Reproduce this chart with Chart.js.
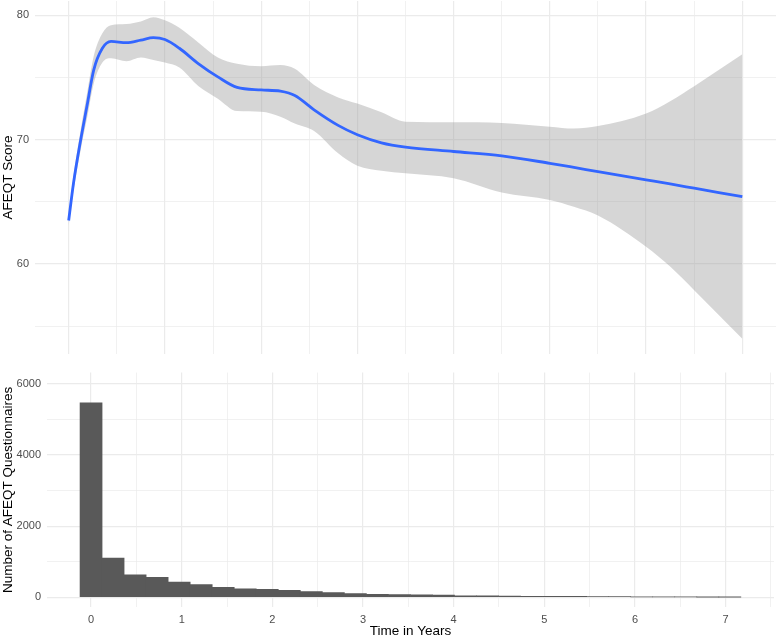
<!DOCTYPE html>
<html>
<head>
<meta charset="utf-8">
<script src="https://cdn.jsdelivr.net/npm/chart.js@4.4.1/dist/chart.umd.min.js"></script>
<style>
  html, body { margin: 0; padding: 0; background: #ffffff; }
  #wrap { position: relative; width: 778px; height: 638px; overflow: hidden; }
  #top { position: absolute; left: 0; top: -15px; }
  #bottom { position: absolute; left: 0; top: 360px; }
</style>
</head>
<body>
<div id="wrap">
  <canvas id="top" width="778" height="386"></canvas>
  <canvas id="bottom" width="778" height="278"></canvas>
</div>
<script>
// ---------- data ----------
// Upper panel: smoothed AFEQT score with confidence band
const topTime  = [0, 0.05, 0.125, 0.19, 0.26, 0.35, 0.44, 0.6, 0.75, 0.88, 1.0, 1.15, 1.35, 1.55, 1.75, 2.0, 2.2, 2.35, 2.55, 2.8, 3.0, 3.25, 3.5, 4.0, 4.5, 5.0, 5.25, 5.5, 6.0, 6.25, 6.5, 7.0];
const fitScore = [63.5, 66.5, 70.0, 72.7, 75.6, 77.35, 77.9, 77.8, 78.0, 78.2, 78.05, 77.35, 76.1, 75.05, 74.2, 74.0, 73.9, 73.55, 72.4, 71.15, 70.4, 69.75, 69.4, 69.05, 68.7, 68.1, 67.77, 67.43, 66.77, 66.44, 66.1, 65.42];
const ciUpper  = [63.9, 67.1, 70.8, 73.7, 76.7, 78.55, 79.2, 79.3, 79.5, 79.84, 79.6, 79.0, 77.8, 76.6, 76.1, 75.9, 76.0, 75.7, 74.4, 73.4, 72.9, 72.2, 71.45, 71.4, 71.35, 71.05, 70.9, 71.1, 72.1, 73.1, 74.3, 76.86];
const ciLower  = [63.1, 65.9, 69.2, 71.7, 74.5, 76.2, 76.55, 76.3, 76.6, 76.4, 76.2, 75.8, 74.3, 73.3, 72.3, 72.25, 71.85, 71.3, 70.7, 68.9, 67.9, 67.5, 67.3, 66.9, 65.75, 65.15, 64.6, 63.9, 61.4, 59.8, 57.9, 54.0];
const topXTicks = [0, 0.5, 1, 1.5, 2, 2.5, 3, 3.5, 4, 4.5, 5, 5.5, 6, 6.5, 7];
const topXMajor = [0, 1, 2, 3, 4, 5, 6, 7];
const topYTicks = [55, 60, 65, 70, 75, 80];
const topYLabels = [60, 70, 80];

// Lower panel: histogram of questionnaires over time
const binCenters = [0, 0.243, 0.486, 0.729, 0.972, 1.215, 1.458, 1.701, 1.944, 2.187, 2.43, 2.673, 2.916, 3.159, 3.402, 3.645, 3.888, 4.131, 4.374, 4.617, 4.86, 5.103, 5.346, 5.589, 5.832, 6.075, 6.318, 6.561, 6.804, 7.047];
const binCounts  = [5470, 1100, 635, 560, 425, 355, 280, 240, 225, 195, 160, 130, 105, 85, 80, 70, 60, 45, 45, 38, 30, 25, 30, 20, 22, 10, 8, 8, 4, 2];
const yearTicks  = [0, 0.5, 1, 1.5, 2, 2.5, 3, 3.5, 4, 4.5, 5, 5.5, 6, 6.5, 7, 7.5];
const yearLabels = [0, 1, 2, 3, 4, 5, 6, 7];
const countTicks = [0, 1000, 2000, 3000, 4000, 5000, 6000];
const countLabels = [0, 2000, 4000, 6000];

// ---------- styles ----------
const FONT = "'Liberation Sans', Arial, Helvetica, sans-serif";
const GRID = '#ebebeb';
const TICKCOL = '#4d4d4d';
Chart.defaults.font.family = FONT;
Chart.defaults.animation = false;

function gridWidth(labels) {
  return ctx => (ctx.tick && labels.includes(ctx.tick.value)) ? 1.2 : 0.7;
}
function setTicks(values) {
  return scale => { scale.ticks = values.map(v => ({ value: v })); };
}

// ---------- upper panel ----------
const pts = ys => topTime.map((t, i) => ({ x: t, y: ys[i] }));
new Chart(document.getElementById('top'), {
  type: 'line',
  data: {
    datasets: [
      { data: pts(ciLower), order: 2, borderWidth: 0, pointRadius: 0, fill: false, cubicInterpolationMode: 'monotone', borderColor: 'rgba(0,0,0,0)' },
      { data: pts(ciUpper), order: 1, borderWidth: 0, pointRadius: 0, fill: '-1', backgroundColor: 'rgba(153,153,153,0.4)', cubicInterpolationMode: 'monotone', borderColor: 'rgba(0,0,0,0)' },
      { data: pts(fitScore), order: 0, borderWidth: 2.8, pointRadius: 0, fill: false, borderColor: '#3366FF', cubicInterpolationMode: 'monotone' }
    ]
  },
  options: {
    responsive: false,
    devicePixelRatio: 1,
    layout: { padding: { top: 16, left: 0, right: 2, bottom: 0 } },
    plugins: { legend: { display: false }, tooltip: { enabled: false } },
    scales: {
      x: {
        type: 'linear', min: -0.35, max: 7.35,
        afterBuildTicks: setTicks(topXTicks),
        afterFit: s => { s.height = 17; },
        ticks: { display: false },
        grid: { color: GRID, lineWidth: gridWidth(topXMajor), drawTicks: false },
        border: { display: false }
      },
      y: {
        min: 52.77, max: 81.15,
        afterBuildTicks: setTicks(topYTicks),
        afterFit: s => { s.width = 35; },
        ticks: {
          color: TICKCOL, font: { size: 11 }, padding: 6,
          callback: v => topYLabels.includes(v) ? String(v) : ''
        },
        grid: { color: GRID, lineWidth: gridWidth(topYLabels), drawTicks: false },
        border: { display: false },
        title: { display: true, text: 'AFEQT Score', color: '#000000', font: { size: 13.5, lineHeight: 1.2 }, padding: 0 }
      }
    }
  }
});

// ---------- lower panel ----------
new Chart(document.getElementById('bottom'), {
  type: 'bar',
  data: {
    datasets: [{
      data: binCenters.map((c, i) => ({ x: c, y: binCounts[i] })),
      backgroundColor: '#595959',
      borderWidth: 0,
      barPercentage: 1,
      categoryPercentage: 1
    }]
  },
  options: {
    responsive: false,
    devicePixelRatio: 1,
    layout: { padding: { top: 12, left: 0, right: 4, bottom: 0 } },
    plugins: { legend: { display: false }, tooltip: { enabled: false } },
    scales: {
      x: {
        type: 'linear', min: -0.486, max: 7.534, offset: false,
        afterBuildTicks: setTicks(yearTicks),
        afterFit: s => { s.height = 31; },
        ticks: {
          color: TICKCOL, font: { size: 11 }, padding: 6, autoSkip: false, maxRotation: 0,
          callback: v => yearLabels.includes(v) ? String(v) : ''
        },
        grid: { color: GRID, lineWidth: gridWidth(yearLabels), drawTicks: false, offset: false },
        border: { display: false },
        title: { display: true, text: 'Time in Years', color: '#000000', font: { size: 13.5, lineHeight: 1 }, padding: 0 }
      },
      y: {
        min: -272, max: 6317,
        afterBuildTicks: setTicks(countTicks),
        afterFit: s => { s.width = 47; },
        ticks: {
          color: TICKCOL, font: { size: 11 }, padding: 6,
          callback: v => countLabels.includes(v) ? String(v) : ''
        },
        grid: { color: GRID, lineWidth: gridWidth(countLabels), drawTicks: false },
        border: { display: false },
        title: { display: true, text: 'Number of AFEQT Questionnaires', color: '#000000', font: { size: 13.5, lineHeight: 1.2 }, padding: 0 }
      }
    }
  }
});
</script>
</body>
</html>
